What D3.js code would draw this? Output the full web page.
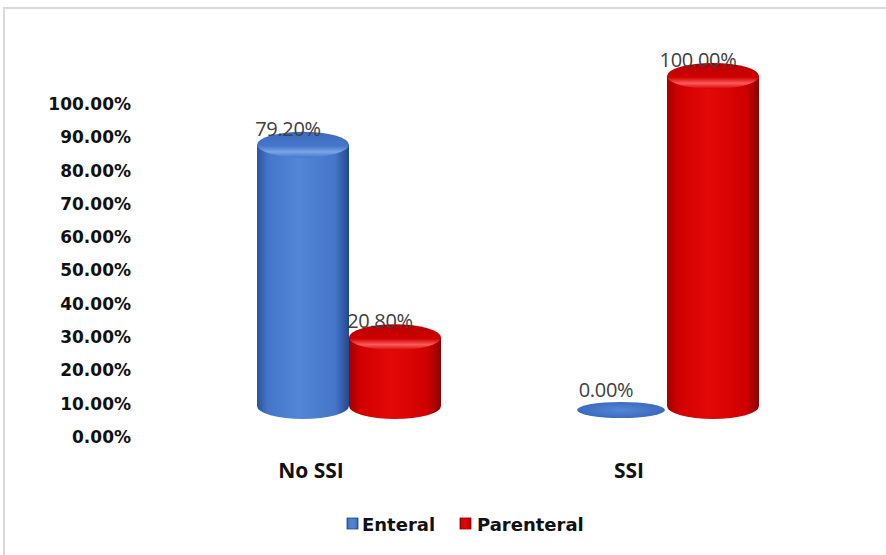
<!DOCTYPE html>
<html>
<head>
<meta charset="utf-8">
<script src="https://cdn.jsdelivr.net/npm/d3@7"></script>
<style>
  html, body { margin: 0; padding: 0; background: #ffffff; }
  svg { display: block; }
</style>
</head>
<body>
<svg id="chart" width="886" height="555"></svg>
<script>
// Feeding route by surgical site infection outcome
const categories = ["No SSI", "SSI"];
const seriesNames = ["Enteral", "Parenteral"];
const enteral = [0.792, 0.0];
const parenteral = [0.208, 1.0];
const yTicks = [0, 0.1, 0.2, 0.3, 0.4, 0.5, 0.6, 0.7, 0.8, 0.9, 1.0];

const seriesValues = { "Enteral": enteral, "Parenteral": parenteral };

const palette = {
  "Enteral":    { edgeL: "#2a539c", mid: "#5286d6", edgeR: "#24488c", capBack: "#3d6bbd", capFront: "#7aa4e6", capDark: "#4576c9" },
  "Parenteral": { edgeL: "#a30000", mid: "#e30808", edgeR: "#8e0000", capBack: "#b80000", capFront: "#ff5a5a", capDark: "#d00000" }
};

const svg = d3.select("#chart");
const defs = svg.append("defs");

// Chart frame
svg.append("path")
  .attr("d", "M4,555 V8 H886")
  .attr("fill", "none")
  .attr("stroke", "#d9d9d9")
  .attr("stroke-width", 2);

// Axis scale (front plane) and bar scale (projected back plane)
const yAxisScale = d3.scaleLinear().domain([0, 1]).range([437, 104]);
const yBar = d3.scaleLinear().domain([0, 1]).range([406, 76]);

const x0 = d3.scaleBand().domain(categories).range([190, 826]).padding(0);
const x1 = d3.scaleBand().domain(seriesNames).range([0, 184]).padding(0);
const groupOffset = (x0.bandwidth() - 184) / 2;

// Gradients for cylinder bodies and caps
seriesNames.forEach((s, i) => {
  const p = palette[s];
  const body = defs.append("linearGradient").attr("id", "body" + i)
    .attr("x1", "0%").attr("x2", "100%").attr("y1", "0%").attr("y2", "0%");
  body.append("stop").attr("offset", "0%").attr("stop-color", p.edgeL);
  body.append("stop").attr("offset", "12%").attr("stop-color", p.capDark);
  body.append("stop").attr("offset", "45%").attr("stop-color", p.mid);
  body.append("stop").attr("offset", "85%").attr("stop-color", p.capDark);
  body.append("stop").attr("offset", "100%").attr("stop-color", p.edgeR);

  const cap = defs.append("linearGradient").attr("id", "cap" + i)
    .attr("x1", "0%").attr("x2", "0%").attr("y1", "0%").attr("y2", "100%");
  cap.append("stop").attr("offset", "0%").attr("stop-color", p.capBack);
  cap.append("stop").attr("offset", "55%").attr("stop-color", p.capDark);
  cap.append("stop").attr("offset", "78%").attr("stop-color", p.capFront);
  cap.append("stop").attr("offset", "100%").attr("stop-color", p.capDark);

  const disc = defs.append("radialGradient").attr("id", "disc" + i);
  disc.append("stop").attr("offset", "0%").attr("stop-color", p.mid);
  disc.append("stop").attr("offset", "100%").attr("stop-color", p.capBack);
});

// Y axis
const yAxis = d3.axisLeft(yAxisScale)
  .tickValues(yTicks)
  .tickFormat(d3.format(".2%"))
  .tickSize(0)
  .tickPadding(3);

const axisG = svg.append("g")
  .attr("transform", "translate(134,0)")
  .call(yAxis);
axisG.select(".domain").remove();
axisG.selectAll("text")
  .attr("font-family", "'DejaVu Sans', Verdana, sans-serif")
  .attr("font-weight", "bold")
  .attr("font-size", 17)
  .attr("fill", "#111");

// Cylinders
const RY = 13;
const rows = [];
categories.forEach((c, ci) => {
  seriesNames.forEach((s, si) => {
    rows.push({ cat: c, series: s, si: si, value: seriesValues[s][ci] });
  });
});

const bars = svg.append("g").selectAll("g.cyl")
  .data(rows)
  .join("g")
  .attr("class", "cyl");

bars.each(function(d) {
  const g = d3.select(this);
  const left = x0(d.cat) + groupOffset + x1(d.series);
  const w = x1.bandwidth();
  const rx = w / 2;
  const cx = left + rx;
  const base = yBar(0);
  const top = yBar(d.value);

  if (d.value <= 0) {
    g.append("ellipse")
      .attr("cx", cx).attr("cy", base + 4)
      .attr("rx", rx - 2).attr("ry", 8)
      .attr("fill", "url(#disc" + d.si + ")");
  } else {
    g.append("path")
      .attr("d", `M${left},${top} V${base} A${rx},${RY} 0 0 0 ${left + w},${base} V${top} Z`)
      .attr("fill", "url(#body" + d.si + ")");
    g.append("ellipse")
      .attr("cx", cx).attr("cy", top)
      .attr("rx", rx).attr("ry", RY)
      .attr("fill", "url(#cap" + d.si + ")");
  }

  // Value label
  g.append("text")
    .attr("x", cx - 15)
    .attr("y", top - 9)
    .attr("text-anchor", "middle")
    .attr("font-family", "'Open Sans', sans-serif")
    .attr("font-size", 20)
    .attr("letter-spacing", -0.3)
    .attr("fill", "#404040")
    .text(d3.format(".2%")(d.value));
});

// Category labels
svg.append("g").selectAll("text")
  .data(categories)
  .join("text")
  .attr("x", c => x0(c) + x0.bandwidth() / 2 - 38)
  .attr("y", 478)
  .attr("text-anchor", "middle")
  .attr("font-family", "'Open Sans', sans-serif")
  .attr("font-weight", "bold")
  .attr("font-size", 21)
  .attr("fill", "#111")
  .text(c => c);

// Legend
const legendX = [347, 460];
const legend = svg.append("g").selectAll("g")
  .data(seriesNames)
  .join("g")
  .attr("transform", (s, i) => `translate(${legendX[i]},0)`);

legend.append("rect")
  .attr("x", 0).attr("y", 518)
  .attr("width", 11).attr("height", 11)
  .attr("fill", (s, i) => "url(#body" + i + ")")
  .attr("stroke", (s, i) => palette[s].edgeR)
  .attr("stroke-width", 0.8);

legend.append("text")
  .attr("x", (s, i) => i === 0 ? 15 : 17)
  .attr("y", 531)
  .attr("font-family", "'DejaVu Sans', Verdana, sans-serif")
  .attr("font-weight", "bold")
  .attr("font-size", 18)
  .attr("fill", "#111")
  .text(s => s);
</script>
</body>
</html>
